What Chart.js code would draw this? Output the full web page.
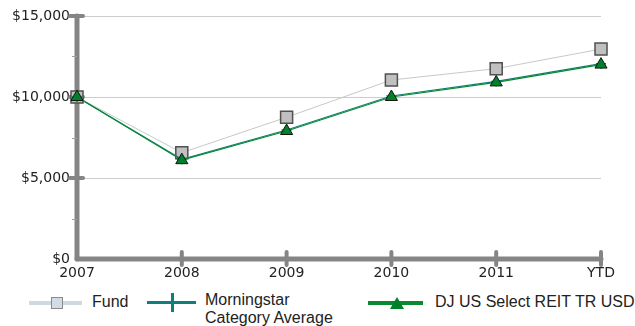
<!DOCTYPE html>
<html>
<head>
<meta charset="utf-8">
<script src="https://cdn.jsdelivr.net/npm/chart.js@4/dist/chart.umd.min.js"></script>
<style>
  html, body { margin: 0; padding: 0; background: #fff; }
  #wrap { position: relative; width: 635px; height: 326px; overflow: hidden; }
  #box { position: absolute; left: 0; top: 0; width: 635px; height: 285px; }
  .lg { position: absolute; }
  .txt { position: absolute; font-family: "Liberation Sans", Arial, sans-serif; font-size: 16px; color: #222; line-height: 20px; white-space: nowrap; }
</style>
</head>
<body>
<div id="wrap">
  <div id="box"><canvas id="c"></canvas></div>
  <!-- Legend -->
  <div class="lg" style="left:29px;top:301px;width:53px;height:4px;background:#d0d8e2;"></div>
  <div class="lg" style="left:51px;top:297px;width:10px;height:10px;background:#d3dbe4;border:1.5px solid #8a8a8a;"></div>
  <div class="txt" style="left:92px;top:292px;">Fund</div>

  <div class="lg" style="left:147px;top:301px;width:49px;height:3px;background:#0e7f7a;"></div>
  <div class="lg" style="left:171px;top:293px;width:3px;height:19px;background:#0e7f7a;"></div>
  <div class="txt" style="left:205px;top:291px;line-height:18px;">Morningstar<br>Category Average</div>

  <div class="lg" style="left:368px;top:301px;width:55px;height:4px;background:#0a8a2e;"></div>
  <div class="lg" style="left:390px;top:297px;width:0;height:0;border-left:7px solid transparent;border-right:7px solid transparent;border-bottom:12px solid #00802b;"></div>
  <div class="txt" style="left:435px;top:292px;">DJ US Select REIT TR USD</div>
</div>
<script>
const categories = ["2007", "2008", "2009", "2010", "2011", "YTD"];
const fundValues = [10000, 6560, 8750, 11050, 11750, 12960];
const categoryAvgValues = [10000, 6150, 7960, 10060, 10960, 12060];
const indexValues = [10000, 6100, 7900, 10000, 10900, 12000];
const yTickValues = [0, 5000, 10000, 15000];
const yMinorTickValues = [2500, 7500, 12500];
const seriesNames = ["Fund", "Morningstar Category Average", "DJ US Select REIT TR USD"];

const axisPlugin = {
  id: 'customAxes',
  beforeDatasetsDraw(chart) {
    const ctx = chart.ctx;
    const x = chart.scales.x, y = chart.scales.y;
    const a = chart.chartArea;
    ctx.save();
    ctx.strokeStyle = '#858585';
    ctx.lineCap = 'round';
    ctx.lineWidth = 5;
    ctx.beginPath();
    ctx.moveTo(a.left, y.getPixelForValue(15000));
    ctx.lineTo(a.left, y.getPixelForValue(0));
    ctx.stroke();
    ctx.beginPath();
    ctx.moveTo(a.left, y.getPixelForValue(0));
    ctx.lineTo(x.getPixelForValue(categories.length - 1), y.getPixelForValue(0));
    ctx.stroke();
    ctx.lineWidth = 4;
    yTickValues.forEach(v => {
      if (v === 0) return;
      const py = y.getPixelForValue(v);
      ctx.beginPath();
      ctx.moveTo(a.left - 7, py);
      ctx.lineTo(a.left + 6, py);
      ctx.stroke();
    });
    categories.forEach((c, i) => {
      if (i === 0) return;
      const px = x.getPixelForValue(i);
      const py = y.getPixelForValue(0);
      ctx.beginPath();
      ctx.moveTo(px, py - 7);
      ctx.lineTo(px, py + 6);
      ctx.stroke();
    });
    ctx.lineCap = 'butt';
    ctx.lineWidth = 1;
    ctx.strokeStyle = '#a0a0a0';
    yMinorTickValues.forEach(v => {
      const py = Math.round(y.getPixelForValue(v)) + 0.5;
      ctx.beginPath();
      ctx.moveTo(a.left - 5, py);
      ctx.lineTo(a.left, py);
      ctx.stroke();
    });
    ctx.restore();
  }
};

new Chart(document.getElementById('c'), {
  type: 'line',
  data: {
    labels: categories,
    datasets: [
      {
        label: seriesNames[2],
        data: indexValues,
        borderColor: '#0a8a2e',
        borderWidth: 1.2,
        pointStyle: 'triangle',
        pointRadius: 7,
        pointBackgroundColor: '#00802b',
        pointBorderColor: '#0b1a0b',
        pointBorderWidth: 1,
        tension: 0,
        order: 1
      },
      {
        label: seriesNames[1],
        data: categoryAvgValues,
        borderColor: '#0e7f7a',
        borderWidth: 1.2,
        pointStyle: 'cross',
        pointRadius: 5,
        pointBorderColor: '#0e7f7a',
        pointBorderWidth: 1.5,
        tension: 0,
        order: 2
      },
      {
        label: seriesNames[0],
        data: fundValues,
        borderColor: '#c8c8c8',
        borderWidth: 1,
        pointStyle: 'rect',
        pointRadius: 8.5,
        pointBackgroundColor: '#c0c0c0',
        pointBorderColor: '#505050',
        pointBorderWidth: 1.5,
        tension: 0,
        order: 3
      }
    ]
  },
  options: {
    responsive: true,
    maintainAspectRatio: false,
    animation: false,
    layout: { padding: { left: 0, right: 34, top: 16, bottom: 0 } },
    plugins: { legend: { display: false }, tooltip: { enabled: false } },
    scales: {
      x: {
        offset: false,
        grid: { display: false, drawTicks: false },
        border: { display: false },
        ticks: {
          color: '#222',
          font: { family: 'DejaVu Sans', size: 14 },
          padding: 6,
          maxRotation: 0,
          autoSkip: false
        },
        afterFit(scale) { scale.height = 26; }
      },
      y: {
        min: 0,
        max: 15000,
        afterBuildTicks(scale) { scale.ticks = yTickValues.map(v => ({ value: v })); },
        grid: {
          drawTicks: false,
          color: (ctx) => ctx.tick && ctx.tick.value === 0 ? 'rgba(0,0,0,0)' : '#cccccc',
          lineWidth: 1
        },
        border: { display: false },
        ticks: {
          color: '#222',
          font: { family: 'DejaVu Sans', size: 14 },
          padding: 7,
          callback: (v) => '$' + Number(v).toLocaleString('en-US')
        },
        afterFit(scale) { scale.width = 77; }
      }
    }
  },
  plugins: [axisPlugin]
});
</script>
</body>
</html>
